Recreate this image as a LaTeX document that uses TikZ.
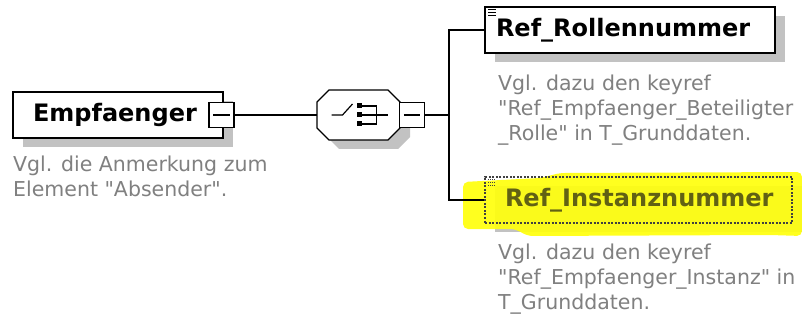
\documentclass[tikz,border=0pt]{standalone}
\usepackage{fontspec}
\setmainfont{DejaVu Sans}
\usetikzlibrary{shadows}
\definecolor{schatten}{gray}{0.76}
\definecolor{anmerkung}{gray}{0.5}
\definecolor{marker}{rgb}{1,1,0.05}
\definecolor{markertext}{rgb}{0.38,0.38,0.08}
\font\gzfont="DejaVu Sans" at 20.5pt
\newcommand{\gz}{{\gzfont\char34}}
\begin{document}
\begin{tikzpicture}[x=1pt,y=-1pt,
    elem/.style={draw,line width=1.6pt,fill=white,minimum height=46pt,inner ysep=0pt,align=left,
      font=\fontsize{24}{28}\selectfont\bfseries,
      drop shadow={shadow xshift=10pt,shadow yshift=-9pt,fill=schatten,opacity=1}},
    mbox/.style={draw,line width=1.2pt,fill=white,minimum size=25pt,inner sep=0pt},
    anm/.style={anchor=north west,align=left,inner sep=0pt,text=anmerkung,
      font=\fontsize{20.5}{25}\selectfont},
    linie/.style={line width=1.2pt}]
    \fill[white] (0,0) rectangle (802,320);
    \useasboundingbox (0,0) rectangle (802,320);
    % Empfaenger
    \node[elem,text width=170pt,inner xsep=20pt] (empf) at (118,115) {Empfaenger};
    \node[mbox] (m1) at (221.5,115) {};
    \draw[linie] ([xshift=5pt]m1.west) -- ([xshift=-5pt]m1.east);
    \node[anm] (empfanm) at (13,156) {Vgl. die Anmerkung zum\\Element \gz Absender\gz.};
    % Sequenz
    \node[minimum width=83pt,minimum height=50pt,inner sep=0pt] (seq) at (358.5,115) {};
    \begin{scope}[shift={(seq.center)},line width=1.4pt]
      \fill[schatten,shift={(10,9)}] (-41.5,-13) -- (-29.5,-25) -- (29.5,-25) -- (41.5,-13)
        -- (41.5,13) -- (29.5,25) -- (-29.5,25) -- (-41.5,13) -- cycle;
      \draw[fill=white] (-41.5,-13) -- (-29.5,-25) -- (29.5,-25) -- (41.5,-13)
        -- (41.5,13) -- (29.5,25) -- (-29.5,25) -- (-41.5,13) -- cycle;
      \draw[line width=1.2pt] (-27,0) -- (-16,0) -- (-6,-11);
      \foreach \y in {-9,0,9}
        \fill (-1.5,\y-2.5) rectangle (3.5,\y+2.5);
      \draw[line width=1.2pt] (3.5,-9) -- (18,-9) -- (18,9) -- (3.5,9);
      \draw[line width=1.2pt] (3.5,0) -- (29,0);
    \end{scope}
    \node[mbox] (m2) at (412,115) {};
    \draw[linie] ([xshift=5pt]m2.west) -- ([xshift=-5pt]m2.east);
    \draw[linie] (m1) -- (seq);
    \coordinate (gabel) at (449,115);
    \draw[linie] (m2) -- (gabel);
    % Ref_Rollennummer
    \node[elem,text width=268pt,inner xsep=11pt] (rolle) at (630,30) {Ref\_Rollennummer};
    \foreach \d in {3,6,9}
      \draw[line width=1.2pt] ([xshift=4pt,yshift=-\d pt]rolle.north west) -- +(8,0);
    \node[anm] (rolleanm) at (498,75) {Vgl. dazu den keyref\\\gz Ref\_Empfaenger\_Beteiligter\\\_Rolle\gz{} in T\_Grunddaten.};
    % Ref_Instanznummer, markiert
    \fill[schatten] (495,186) rectangle (802,232);
    \fill[marker,opacity=.92,rounded corners=5pt] (463,182) -- (540,178) -- (560,173) -- (802,172)
      -- (802,236) -- (770,235) -- (528,236) -- (515,229) -- (463,229) -- cycle;
    \node[draw=black!75,dash pattern=on 2pt off 1.5pt,line width=1.4pt,minimum height=46pt,inner ysep=0pt,
      align=left,font=\fontsize{24}{28}\selectfont\bfseries,text=markertext,
      text width=267pt,inner xsep=20pt] (inst) at (638.5,200) {Ref\_Instanznummer};
    \foreach \d in {3,6,9}
      \draw[line width=1.2pt,dash pattern=on 1pt off 1pt,black!75] ([xshift=4pt,yshift=-\d pt]inst.north west) -- +(8,0);
    \node[anm] (instanm) at (498,244) {Vgl. dazu den keyref\\\gz Ref\_Empfaenger\_Instanz\gz{} in\\T\_Grunddaten.};
    \draw[linie] (gabel) |- (rolle.west);
    \draw[linie] (gabel) |- (inst.west);
\end{tikzpicture}
\end{document}
